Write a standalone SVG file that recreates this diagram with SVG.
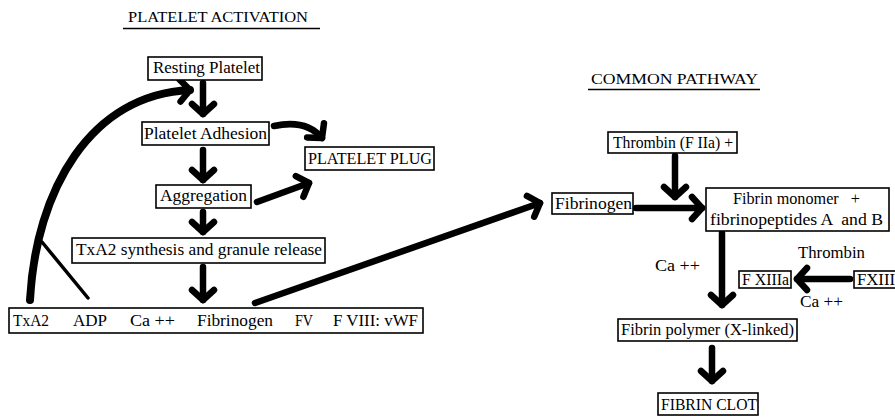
<svg xmlns="http://www.w3.org/2000/svg" width="895" height="417" viewBox="0 0 895 417">
<style>
text{font-size:16px;fill:#000;white-space:pre}
.tt{font-size:15px}
.box{fill:#fff;stroke:#000;stroke-width:1.6}
.ar{fill:none;stroke:#000;stroke-width:6.5;stroke-linecap:round;stroke-linejoin:round}
.big{stroke-width:8}
.thin{fill:none;stroke:#000;stroke-width:3.5;stroke-linecap:round}
.ul{stroke:#000;stroke-width:1.5}
</style>
<defs>
<marker id="ah" viewBox="-16 -16 22 32" markerWidth="22" markerHeight="32" refX="0" refY="0" orient="auto" markerUnits="userSpaceOnUse">
<path d="M-10,-11 L0,0 L-10,11" fill="none" stroke="#000" stroke-width="6.5" stroke-linecap="round" stroke-linejoin="round"/>
</marker>
</defs>
<rect width="895" height="417" fill="#fff"/>

<g id="title-platelet">
<text class="tt" font-family="Liberation Serif" x="128" y="22" textLength="180" lengthAdjust="spacingAndGlyphs">PLATELET ACTIVATION</text>
<line class="ul" x1="123" y1="28.5" x2="320" y2="28.5"/>
</g>
<g id="title-common">
<text class="tt" font-family="Liberation Serif" x="591" y="84" textLength="167" lengthAdjust="spacingAndGlyphs">COMMON PATHWAY</text>
<line class="ul" x1="588" y1="89.5" x2="760" y2="89.5"/>
</g>

<g id="connectors">
<path class="ar big" d="M30,300 C36,190 90,95 190,90" marker-end="url(#ah)"/>
<path class="thin" d="M88,298 L42,242"/>
<path class="ar" d="M203,83 L203,114" marker-end="url(#ah)"/>
<path class="ar" d="M203,150 L203,180" marker-end="url(#ah)"/>
<path class="ar" d="M203,212 L203,232" marker-end="url(#ah)"/>
<path class="ar" d="M203,267 L203,300" marker-end="url(#ah)"/>
<path class="ar" d="M274,126 Q306,119 322,138" marker-end="url(#ah)"/>
<path class="ar" d="M257,202 L309,183" marker-end="url(#ah)"/>
<path class="ar" d="M255,303 L540,203" marker-end="url(#ah)"/>
<path class="ar" d="M675,156 L675,197" marker-end="url(#ah)"/>
<path class="ar" d="M636,208 L702,208" marker-end="url(#ah)"/>
<path class="ar" d="M722,233 L722,305" marker-end="url(#ah)"/>
<path class="ar" d="M850,279 L797,279" marker-end="url(#ah)"/>
<path class="ar" d="M712,348 L712,381" marker-end="url(#ah)"/>
</g>

<g id="resting-platelet">
<rect class="box" x="148" y="57" width="114" height="23"/>
<text font-family="Liberation Serif" x="153" y="73" textLength="107" lengthAdjust="spacingAndGlyphs">Resting Platelet</text>
</g>
<g id="platelet-adhesion">
<rect class="box" x="142" y="122" width="127" height="23"/>
<text font-family="Liberation Serif" x="144" y="139" textLength="123" lengthAdjust="spacingAndGlyphs">Platelet Adhesion</text>
</g>
<g id="platelet-plug">
<rect class="box" x="305" y="147" width="129" height="23"/>
<text font-family="Liberation Serif" x="308" y="164" textLength="124" lengthAdjust="spacingAndGlyphs">PLATELET PLUG</text>
</g>
<g id="aggregation">
<rect class="box" x="156" y="185" width="95" height="23"/>
<text font-family="Liberation Serif" x="160" y="201" textLength="87" lengthAdjust="spacingAndGlyphs">Aggregation</text>
</g>
<g id="txa2-synthesis">
<rect class="box" x="72" y="238" width="253" height="25"/>
<text font-family="Liberation Serif" x="76" y="255" textLength="246" lengthAdjust="spacingAndGlyphs">TxA2 synthesis and granule release</text>
</g>
<g id="released-factors">
<rect class="box" x="9" y="308" width="414" height="25"/>
<text font-family="Liberation Serif" x="13" y="326" textLength="36" lengthAdjust="spacingAndGlyphs">TxA2</text>
<text font-family="Liberation Serif" x="73" y="326" textLength="34" lengthAdjust="spacingAndGlyphs">ADP</text>
<text font-family="Liberation Serif" x="130" y="326" textLength="45" lengthAdjust="spacingAndGlyphs">Ca ++</text>
<text font-family="Liberation Serif" x="197" y="326" textLength="76" lengthAdjust="spacingAndGlyphs">Fibrinogen</text>
<text font-family="Liberation Serif" x="295" y="326" textLength="18" lengthAdjust="spacingAndGlyphs">FV</text>
<text font-family="Liberation Serif" x="333" y="326" textLength="85" lengthAdjust="spacingAndGlyphs">F VIII: vWF</text>
</g>

<g id="thrombin">
<rect class="box" x="608" y="132" width="129" height="21"/>
<text font-family="Liberation Serif" x="613" y="148" textLength="120" lengthAdjust="spacingAndGlyphs">Thrombin (F IIa) +</text>
</g>
<g id="fibrinogen">
<rect class="box" x="552" y="193" width="81" height="21"/>
<text font-family="Liberation Serif" x="555" y="209" textLength="77" lengthAdjust="spacingAndGlyphs">Fibrinogen</text>
</g>
<g id="fibrin-monomer">
<rect class="box" x="706" y="188" width="183" height="43"/>
<text font-family="Liberation Serif" x="733" y="204" textLength="127" lengthAdjust="spacingAndGlyphs">Fibrin monomer   +</text>
<text font-family="Liberation Serif" x="710" y="225" textLength="173" lengthAdjust="spacingAndGlyphs">fibrinopeptides A  and B</text>
</g>
<g id="label-ca-1">
<text font-family="Liberation Serif" x="655" y="271" textLength="45" lengthAdjust="spacingAndGlyphs">Ca ++</text>
</g>
<g id="label-thrombin">
<text font-family="Liberation Serif" x="798" y="258" textLength="67" lengthAdjust="spacingAndGlyphs">Thrombin</text>
</g>
<g id="label-ca-2">
<text font-family="Liberation Serif" x="800" y="307" textLength="43" lengthAdjust="spacingAndGlyphs">Ca ++</text>
</g>
<g id="f-xiiia">
<rect class="box" x="739" y="271" width="52" height="17"/>
<text font-family="Liberation Serif" x="742" y="285" textLength="47" lengthAdjust="spacingAndGlyphs">F XIIIa</text>
</g>
<g id="fxiii">
<rect class="box" x="854" y="271" width="44" height="17"/>
<text font-family="Liberation Serif" x="857" y="285" textLength="38" lengthAdjust="spacingAndGlyphs">FXIII</text>
</g>
<g id="fibrin-polymer">
<rect class="box" x="618" y="319" width="179" height="22"/>
<text font-family="Liberation Serif" x="621" y="335" textLength="173" lengthAdjust="spacingAndGlyphs">Fibrin polymer (X-linked)</text>
</g>
<g id="fibrin-clot">
<rect class="box" x="658" y="393" width="100" height="22"/>
<text font-family="Liberation Serif" x="661" y="410" textLength="96" lengthAdjust="spacingAndGlyphs">FIBRIN CLOT</text>
</g>
</svg>
